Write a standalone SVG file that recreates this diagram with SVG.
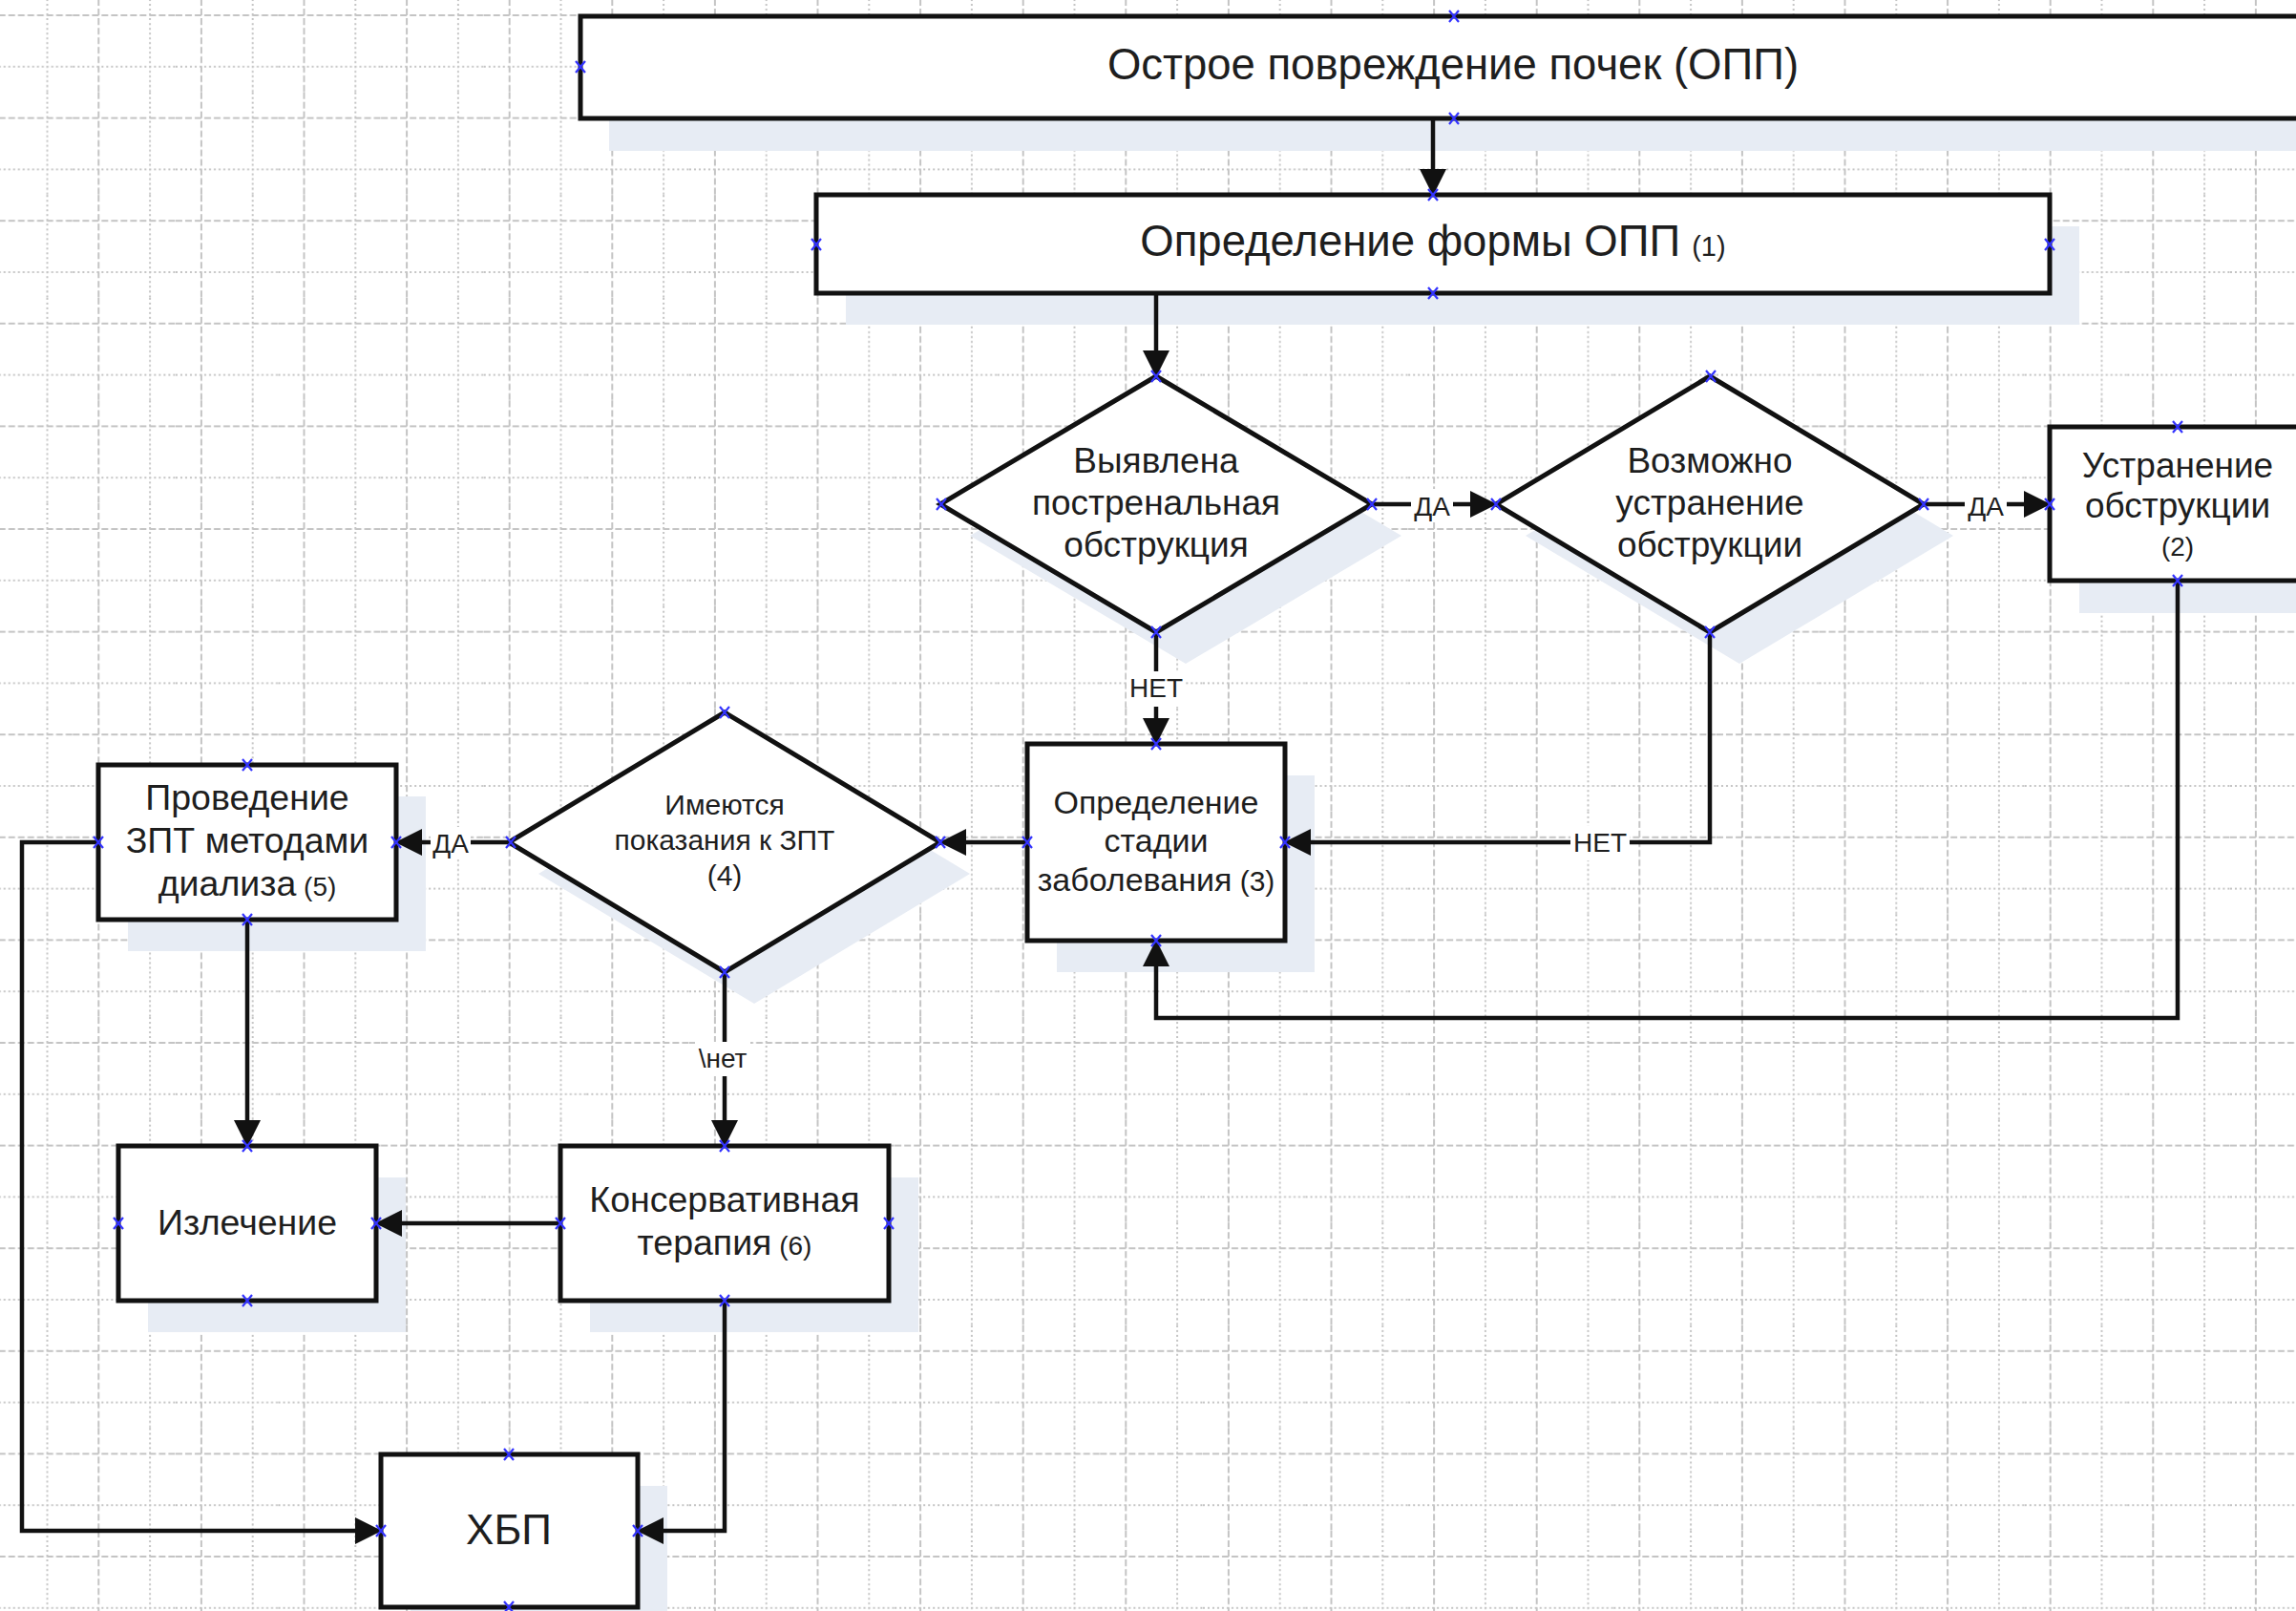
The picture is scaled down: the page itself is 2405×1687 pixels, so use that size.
<svg xmlns="http://www.w3.org/2000/svg" xmlns:xlink="http://www.w3.org/1999/xlink" width="2405" height="1687" viewBox="0 0 2405 1687">
<style>
.sh{fill:#e7ecf4}
.nd{fill:#fff;stroke:#111;stroke-width:5;stroke-linejoin:miter}
.t{font-family:"Liberation Sans",Arial,sans-serif;fill:#1e1e1e;text-anchor:middle}
.cn{fill:none;stroke:#111;stroke-width:4.5;stroke-linejoin:miter}
.lb{fill:#fff}
.lt{font-family:"Liberation Sans",Arial,sans-serif;fill:#1e1e1e;text-anchor:middle;font-size:28px}
.gd{stroke:#c4c4c4;stroke-width:2;fill:none;stroke-dasharray:7 3}
.gt{stroke:#c4c4c4;stroke-width:2;fill:none;stroke-dasharray:2 3}
</style>
<defs>
<pattern id="grid" patternUnits="userSpaceOnUse" x="76.4" y="-10.9" width="107.6" height="107.6">
<path class="gd" d="M26.9 0V107.6M0 26.9H107.6"/>
<path class="gt" d="M80.7 0V107.6M0 80.7H107.6"/>
</pattern>
<marker id="ah" markerUnits="userSpaceOnUse" markerWidth="28" markerHeight="28" viewBox="0 0 28 28" refX="27" refY="14" orient="auto">
<path d="M0 0L28 14L0 28z" fill="#111"/>
</marker>
<path id="mk" d="M-5-6L5 6M5-6L-5 6" stroke="#3333ff" stroke-width="2.2" fill="none"/>
</defs>
<rect width="2405" height="1687" fill="#fff"/>
<rect width="2405" height="1687" fill="url(#grid)"/>

<g id="node-opp">
<rect class="sh" x="638" y="51" width="1830" height="107"/>
<rect class="nd" x="608" y="17" width="1830" height="107"/>
<text class="t" x="1522" y="83" font-size="45.5">Острое повреждение почек (ОПП)</text>
</g>
<g id="node-forma">
<rect class="sh" x="886" y="237" width="1292" height="103"/>
<rect class="nd" x="855" y="204" width="1292" height="103"/>
<text class="t" x="1501" y="268" font-size="45.5">Определение формы ОПП<tspan font-size="29" dx="4"> (1)</tspan></text>
</g>
<g id="node-obstr">
<polygon class="sh" points="1242,427 1468,561 1242,695 1016,561"/>
<polygon class="nd" points="1211,394 1437,528 1211,662 985,528"/>
<text class="t" font-size="37"><tspan x="1211" y="495">Выявлена</tspan><tspan x="1211" y="539">постренальная</tspan><tspan x="1211" y="583">обструкция</tspan></text>
</g>
<g id="node-vozm">
<polygon class="sh" points="1822,427 2046,561 1822,695 1598,561"/>
<polygon class="nd" points="1791,394 2015,528 1791,662 1567,528"/>
<text class="t" font-size="37"><tspan x="1791" y="495">Возможно</tspan><tspan x="1791" y="539">устранение</tspan><tspan x="1791" y="583">обструкции</tspan></text>
</g>
<g id="node-ustr">
<rect class="sh" x="2178" y="481" width="300" height="161"/>
<rect class="nd" x="2147" y="447" width="300" height="161"/>
<text class="t" font-size="37"><tspan x="2281" y="500">Устранение</tspan><tspan x="2281" y="542">обструкции</tspan><tspan x="2281" y="582" font-size="28">(2)</tspan></text>
</g>
<g id="node-stadia">
<rect class="sh" x="1107" y="812" width="270" height="206"/>
<rect class="nd" x="1076" y="779" width="270" height="206"/>
<text class="t" font-size="34"><tspan x="1211" y="852">Определение</tspan><tspan x="1211" y="892">стадии</tspan><tspan x="1211" y="933">заболевания<tspan font-size="30"> (3)</tspan></tspan></text>
</g>
<g id="node-pokaz">
<polygon class="sh" points="790,779 1016,915 790,1051 564,915"/>
<polygon class="nd" points="759,746 985,882 759,1018 533,882"/>
<text class="t" font-size="30"><tspan x="759" y="853">Имеются</tspan><tspan x="759" y="890">показания к ЗПТ</tspan><tspan x="759" y="927">(4)</tspan></text>
</g>
<g id="node-zpt">
<rect class="sh" x="134" y="834" width="312" height="162"/>
<rect class="nd" x="103" y="801" width="312" height="162"/>
<text class="t" font-size="37.5"><tspan x="259" y="848">Проведение</tspan><tspan x="259" y="893">ЗПТ методами</tspan><tspan x="259" y="938">диализа<tspan font-size="28"> (5)</tspan></tspan></text>
</g>
<g id="node-izl">
<rect class="sh" x="155" y="1233" width="270" height="162"/>
<rect class="nd" x="124" y="1200" width="270" height="162"/>
<text class="t" x="259" y="1293" font-size="37.5">Излечение</text>
</g>
<g id="node-kons">
<rect class="sh" x="618" y="1233" width="344" height="162"/>
<rect class="nd" x="587" y="1200" width="344" height="162"/>
<text class="t" font-size="37.5"><tspan x="759" y="1269">Консервативная</tspan><tspan x="759" y="1314">терапия<tspan font-size="28"> (6)</tspan></tspan></text>
</g>
<g id="node-hbp">
<rect class="sh" x="430" y="1556" width="269" height="160"/>
<rect class="nd" x="399" y="1523" width="269" height="160"/>
<text class="t" x="533" y="1617" font-size="44">ХБП</text>
</g>

<g id="connectors">
<path class="cn" d="M1501 124V204" marker-end="url(#ah)"/>
<path class="cn" d="M1211 307V394" marker-end="url(#ah)"/>
<path class="cn" d="M1437 528H1567" marker-end="url(#ah)"/>
<path class="cn" d="M2015 528H2147" marker-end="url(#ah)"/>
<path class="cn" d="M1211 662V779" marker-end="url(#ah)"/>
<path class="cn" d="M1791 662V882H1346" marker-end="url(#ah)"/>
<path class="cn" d="M2281 608V1066H1211V985" marker-end="url(#ah)"/>
<path class="cn" d="M1076 882H985" marker-end="url(#ah)"/>
<path class="cn" d="M533 882H415" marker-end="url(#ah)"/>
<path class="cn" d="M759 1018V1200" marker-end="url(#ah)"/>
<path class="cn" d="M259 963V1200" marker-end="url(#ah)"/>
<path class="cn" d="M587 1281H394" marker-end="url(#ah)"/>
<path class="cn" d="M759 1362V1603H668" marker-end="url(#ah)"/>
<path class="cn" d="M103 882H23V1603H399" marker-end="url(#ah)"/>
<rect class="lb" x="1478" y="512" width="44" height="34"/>
<text class="lt" x="1500" y="540">ДА</text>
<rect class="lb" x="2058" y="512" width="44" height="34"/>
<text class="lt" x="2080" y="540">ДА</text>
<rect class="lb" x="1180" y="703" width="62" height="37"/>
<text class="lt" x="1211" y="730">НЕТ</text>
<rect class="lb" x="1645" y="865" width="62" height="36"/>
<text class="lt" x="1676" y="892">НЕТ</text>
<rect class="lb" x="451" y="866" width="42" height="34"/>
<text class="lt" x="472" y="893">ДА</text>
<rect class="lb" x="728" y="1091" width="58" height="36"/>
<text class="lt" x="757" y="1118">\нет</text>
</g>

<g id="points">
<use xlink:href="#mk" x="1523" y="17"/><use xlink:href="#mk" x="608" y="70"/><use xlink:href="#mk" x="1523" y="124"/>
<use xlink:href="#mk" x="1501" y="204"/><use xlink:href="#mk" x="855" y="256"/><use xlink:href="#mk" x="2147" y="256"/><use xlink:href="#mk" x="1501" y="307"/>
<use xlink:href="#mk" x="1211" y="394"/><use xlink:href="#mk" x="986" y="528"/><use xlink:href="#mk" x="1437" y="528"/><use xlink:href="#mk" x="1211" y="662"/>
<use xlink:href="#mk" x="1792" y="394"/><use xlink:href="#mk" x="1567" y="528"/><use xlink:href="#mk" x="2015" y="528"/><use xlink:href="#mk" x="1791" y="662"/>
<use xlink:href="#mk" x="2281" y="447"/><use xlink:href="#mk" x="2147" y="528"/><use xlink:href="#mk" x="2281" y="608"/>
<use xlink:href="#mk" x="1211" y="779"/><use xlink:href="#mk" x="1076" y="882"/><use xlink:href="#mk" x="1346" y="882"/><use xlink:href="#mk" x="1211" y="985"/>
<use xlink:href="#mk" x="759" y="746"/><use xlink:href="#mk" x="535" y="882"/><use xlink:href="#mk" x="985" y="882"/><use xlink:href="#mk" x="759" y="1018"/>
<use xlink:href="#mk" x="259" y="801"/><use xlink:href="#mk" x="103" y="882"/><use xlink:href="#mk" x="415" y="882"/><use xlink:href="#mk" x="259" y="963"/>
<use xlink:href="#mk" x="259" y="1200"/><use xlink:href="#mk" x="124" y="1281"/><use xlink:href="#mk" x="394" y="1281"/><use xlink:href="#mk" x="259" y="1362"/>
<use xlink:href="#mk" x="759" y="1200"/><use xlink:href="#mk" x="587" y="1281"/><use xlink:href="#mk" x="931" y="1281"/><use xlink:href="#mk" x="759" y="1362"/>
<use xlink:href="#mk" x="533" y="1523"/><use xlink:href="#mk" x="399" y="1603"/><use xlink:href="#mk" x="668" y="1603"/><use xlink:href="#mk" x="533" y="1683"/>
</g>
</svg>
